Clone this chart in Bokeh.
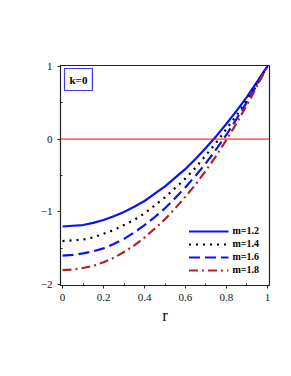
from bokeh.plotting import figure
from bokeh.models import Legend, LegendItem, Label, FixedTicker, Span
from bokeh.embed import file_html
from bokeh.resources import INLINE

r = [0.0, 0.05, 0.1, 0.15, 0.2, 0.25, 0.3, 0.35, 0.4, 0.45, 0.5,
     0.55, 0.6, 0.65, 0.7, 0.75, 0.8, 0.85, 0.9, 0.95, 1.0]
f_m12 = [-1.2, -1.19, -1.18, -1.15, -1.11, -1.06, -1.00, -0.93, -0.85, -0.75, -0.65,
         -0.53, -0.41, -0.27, -0.12, 0.04, 0.21, 0.39, 0.58, 0.79, 1.0]
f_m14 = [-1.4, -1.39, -1.38, -1.35, -1.30, -1.25, -1.18, -1.11, -1.02, -0.91, -0.80,
         -0.67, -0.54, -0.39, -0.22, -0.05, 0.14, 0.33, 0.54, 0.77, 1.0]
f_m16 = [-1.6, -1.59, -1.57, -1.54, -1.50, -1.44, -1.37, -1.28, -1.18, -1.07, -0.95,
         -0.81, -0.66, -0.50, -0.33, -0.14, 0.06, 0.28, 0.51, 0.75, 1.0]
f_m18 = [-1.8, -1.79, -1.77, -1.74, -1.69, -1.63, -1.55, -1.46, -1.35, -1.23, -1.10,
         -0.95, -0.79, -0.62, -0.43, -0.23, -0.01, 0.22, 0.47, 0.73, 1.0]
labels = ["m=1.2", "m=1.4", "m=1.6", "m=1.8"]
x_ticks = [0, 0.2, 0.4, 0.6, 0.8, 1]
y_ticks = [-2, -1, 0, 1]

FONT = "Liberation Serif"

p = figure(width=283, height=358, output_backend="svg", toolbar_location=None,
           x_range=(-0.01, 1.01), y_range=(-2.01, 1.01),
           min_border_left=60, min_border_right=14, min_border_top=65, min_border_bottom=73)
p.frame_width = 209
p.frame_height = 220
p.grid.visible = False
p.outline_line_color = "#222222"
p.outline_line_width = 1.2
p.background_fill_color = "white"
p.border_fill_color = "white"

p.add_layout(Span(location=0, dimension="width", line_color="#ff0000", line_width=1))

styles = [
    dict(color="#0a14f0", dash="solid"),
    dict(color="black", dash="2 5"),
    dict(color="#0a14f0", dash="11 5"),
    dict(color="#b22222", dash="9 4 2 4"),
]
series = [f_m12, f_m14, f_m16, f_m18]
items = []
for lab, ys, st in zip(labels, series, styles):
    rr = p.line(r, ys, line_color=st["color"], line_width=2.2, line_dash=st["dash"])
    items.append(LegendItem(label=lab, renderers=[rr]))

leg = Legend(items=items, location="bottom_right", border_line_color=None,
             background_fill_alpha=0, label_text_font=FONT, label_text_font_style="bold",
             label_text_font_size="10px", label_text_color="black",
             glyph_width=40, glyph_height=10,
             label_height=10, spacing=2, margin=10, padding=2, label_standoff=4)
p.add_layout(leg)

for ax in (p.xaxis[0], p.yaxis[0]):
    ax.major_label_text_font = FONT
    ax.major_label_text_font_size = "11px"
    ax.major_label_text_color = "#111111"
    ax.axis_line_color = "#222222"
    ax.major_tick_line_color = "#222222"
    ax.minor_tick_line_color = "#222222"
    ax.major_tick_out = 3
    ax.major_tick_in = 0
    ax.minor_tick_out = 0
    ax.minor_tick_in = 2

p.xaxis.ticker = FixedTicker(ticks=x_ticks, minor_ticks=[0.1, 0.3, 0.5, 0.7, 0.9])
p.xaxis.major_label_overrides = {0: "0", 0.2: "0.2", 0.4: "0.4", 0.6: "0.6", 0.8: "0.8", 1: "1"}
p.yaxis.ticker = FixedTicker(ticks=y_ticks, minor_ticks=[-1.5, -0.5, 0.5])
p.yaxis.major_label_overrides = {-2: "\u22122", -1: "\u22121", 0: "0", 1: "1"}

p.xaxis.axis_label = "r"
p.xaxis.axis_label_text_font = FONT
p.xaxis.axis_label_text_font_style = "normal"
p.xaxis.axis_label_text_font_size = "17px"
p.xaxis.axis_label_text_color = "#111111"
p.xaxis.axis_label_standoff = 2

p.add_layout(Label(x=-33, y=110, x_units="screen", y_units="screen", text="f(r)",
                   text_font=FONT, text_font_size="17px", text_align="center",
                   text_baseline="middle", text_color="#111111"))

p.add_layout(Label(x=4, y=217, x_units="screen", y_units="screen", text="k=0",
                   text_font=FONT, text_font_style="bold", text_font_size="11px",
                   text_align="left", text_baseline="top", text_color="black",
                   border_line_color="#3a3af5", border_line_width=1.2,
                   background_fill_color="white", padding=5))

open("out.html", "w").write(file_html(p, INLINE))
